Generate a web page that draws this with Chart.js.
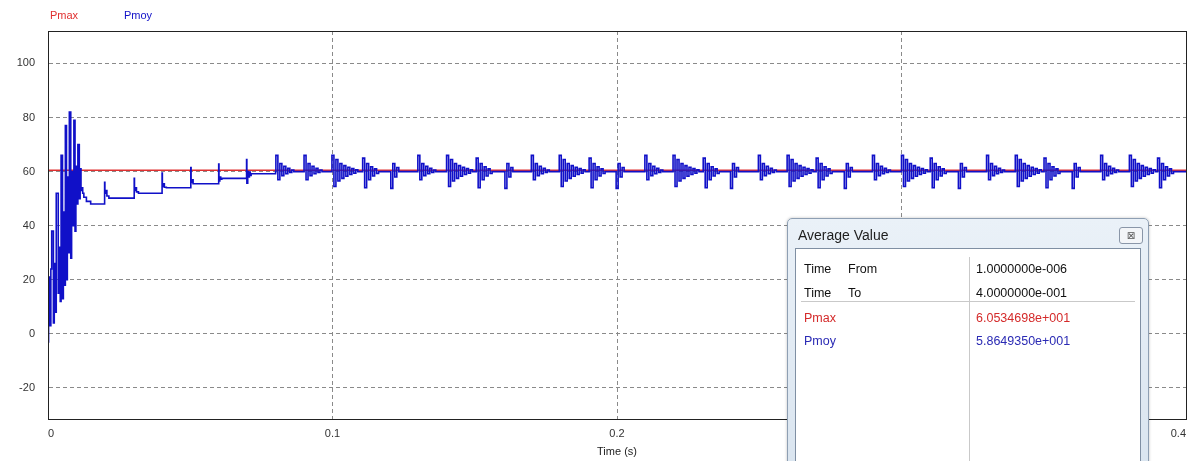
<!DOCTYPE html>
<html>
<head>
<meta charset="utf-8">
<script src="https://cdn.jsdelivr.net/npm/chart.js@4.4.1/dist/chart.umd.min.js"></script>
<style>
  html, body { margin: 0; padding: 0; background: #fff; overflow: hidden; }
  #wrap { position: relative; width: 1194px; height: 461px; font-family: "Liberation Sans", Arial, sans-serif; }
  #legend span { position: absolute; top: 9px; font-size: 11px; white-space: nowrap; }
  #dlg { position: absolute; left: 787px; top: 218px; width: 360px; height: 260px;
         background: linear-gradient(#eaf1f8, #d9e4ef); border: 1px solid #8e9fb3;
         border-radius: 5px 5px 0 0; box-shadow: 0 0 3px rgba(0,0,0,0.25); }
  #dlg .ttl { position: absolute; left: 10px; top: 8px; font-size: 14px; color: #1e1e1e; }
  #dlg .cls { position: absolute; left: 331px; top: 8px; width: 22px; height: 15px; border: 1px solid #8a96a8;
              border-radius: 3px; background: #f3f5f8; font: 10px "DejaVu Sans"; color: #555;
              text-align: center; line-height: 15px; }
  #dlg .pane { position: absolute; left: 7px; top: 29px; width: 344px; height: 240px; background: #fff;
               border: 1px solid #7f8fa3; }
  #dlg .vline { position: absolute; left: 173px; top: 8px; width: 1px; height: 240px; background: #c9c9c9; }
  #dlg .hline { position: absolute; left: 5px; top: 52px; width: 334px; height: 1px; background: #c9c9c9; }
  #dlg .t { position: absolute; font-size: 12.5px; line-height: 14px; white-space: nowrap; color: #111; }
</style>
</head>
<body>
<div id="wrap">
  <canvas id="chart" width="1194" height="461"></canvas>
  <div id="legend"></div>
  <div id="dlg">
    <div class="ttl">Average Value</div>
    <div class="cls">&#x22A0;</div>
    <div class="pane">
      <div class="vline"></div>
      <div class="hline"></div>
      <div class="t" style="left:8px;top:13px">Time</div>
      <div class="t" style="left:52px;top:13px">From</div>
      <div class="t" style="left:180px;top:13px">1.0000000e-006</div>
      <div class="t" style="left:8px;top:37px">Time</div>
      <div class="t" style="left:52px;top:37px">To</div>
      <div class="t" style="left:180px;top:37px">4.0000000e-001</div>
      <div class="t" style="left:8px;top:62px;color:#d42a2a">Pmax</div>
      <div class="t" style="left:180px;top:62px;color:#d42a2a">6.0534698e+001</div>
      <div class="t" style="left:8px;top:85px;color:#2a2ab4">Pmoy</div>
      <div class="t" style="left:180px;top:85px;color:#2a2ab4">5.8649350e+001</div>
    </div>
  </div>
</div>
<script>
// axis ticks
const xTicks = [0, 0.1, 0.2, 0.3, 0.4];
const yTicks = [-20, 0, 20, 40, 60, 80, 100];

// Pmax: flat line
const pmaxT = [0, 0.4];
const pmaxV = [60.5, 60.5];

// Pmoy: start-up transient and the slow steps up to 60
const startT = [0, 0.0002, 0.0006, 0.0010, 0.0013, 0.0019, 0.0022, 0.0026, 0.0029, 0.0036, 0.0039, 0.0043,
  0.0046, 0.0051, 0.0054, 0.0058, 0.0061, 0.0065, 0.0068, 0.0072, 0.0075, 0.0080, 0.0083, 0.0087,
  0.0091, 0.0095, 0.0098, 0.0102, 0.0105, 0.0110, 0.0113, 0.0116, 0.0118, 0.0122, 0.0126, 0.0135,
  0.0150, 0.0170, 0.0199,
  0.0200, 0.0203, 0.0207, 0.0214, 0.0230, 0.0303,
  0.0304, 0.0307, 0.0311, 0.0318, 0.0330, 0.0401,
  0.0402, 0.0405, 0.0409, 0.0416, 0.0502,
  0.0503, 0.0506, 0.0510, 0.0517, 0.0600,
  0.0601, 0.0604, 0.0607, 0.0611, 0.0620, 0.0698,
  0.0699, 0.0702, 0.0705, 0.0708, 0.0711, 0.0714, 0.0720, 0.0800];
const startV = [22, -3, 21, 3, 24, 38, 4, 26, 8, 52, 15, 32,
  12, 66, 13, 45, 18, 77, 20, 58, 30, 82, 28, 60,
  40, 79, 38, 62, 48, 70, 50, 61, 53, 54, 52, 50.5,
  49, 48, 48,
  56, 52, 53, 51, 50.2, 50.2,
  57.5, 53, 54, 52.5, 52, 52,
  59.5, 54.5, 55.5, 54.2, 54,
  61.5, 56, 57, 55.5, 55.5,
  62.8, 56.5, 58, 57.2, 57.5, 57.5,
  64.5, 55.7, 60, 58, 59.8, 58.6, 59.2, 59.2];

// Pmoy: the four burst shapes seen every 10 ms, sampled every 0.7 ms
const burstStep = 0.0007;
const burstA = [60, 66, 57, 63, 58.5, 62, 59.2, 61.2, 59.7, 60.6, 60];
const burstB = [60, 66, 54.5, 64.5, 56.5, 63, 57.5, 62.2, 58.3, 61.6, 58.9, 61.1, 59.4, 60.7, 60];
const burstC = [60, 65, 54, 63, 57, 61.8, 58.4, 61, 59.3, 60];
const burstD = [60, 53.8, 63, 58, 61.5, 60];
const burstTimes = [0.0801, 0.0900, 0.0998, 0.1106, 0.1205, 0.1300, 0.1401, 0.1505, 0.1606, 0.1699,
  0.1797, 0.1902, 0.1997, 0.2098, 0.2197, 0.2303, 0.2399, 0.2497, 0.2598, 0.2700, 0.2799, 0.2898,
  0.3000, 0.3101, 0.3200, 0.3299, 0.3400, 0.3501, 0.3600, 0.3700, 0.3801, 0.3900];
const burstKinds = 'AABCDABCDABCDABCDABCDABCDABCDABC';
const pmoyEnd = [0.4, 60];

const shapes = { A: burstA, B: burstB, C: burstC, D: burstD };
const pmoy = startT.map((t, i) => ({ x: t, y: startV[i] }));
burstTimes.forEach((t0, i) => {
  shapes[burstKinds[i]].forEach((v, j) => pmoy.push({ x: t0 + j * burstStep, y: v }));
});
pmoy.push({ x: pmoyEnd[0], y: pmoyEnd[1] });
const pmax = pmaxT.map((t, i) => ({ x: t, y: pmaxV[i] }));

const frame = {
  id: 'frame',
  afterDraw(chart) {
    const { ctx, chartArea: a } = chart;
    ctx.save();
    ctx.strokeStyle = '#222';
    ctx.lineWidth = 1;
    ctx.strokeRect(Math.round(a.left) + 0.5, Math.round(a.top) + 0.5,
      Math.round(a.right - a.left), Math.round(a.bottom - a.top));
    ctx.restore();
  }
};

const chart = new Chart(document.getElementById('chart'), {
  type: 'line',
  data: {
    datasets: [
      { label: 'Pmoy', data: pmoy, borderColor: '#1010c8', borderWidth: 1.6, pointRadius: 0, stepped: 'after' },
      { label: 'Pmax', data: pmax, borderColor: '#e03030', borderWidth: 1.5, pointRadius: 0, tension: 0 }
    ]
  },
  options: {
    responsive: false,
    animation: false,
    layout: { padding: { top: 31, right: 6, bottom: 0, left: 0 } },
    plugins: { legend: { display: false }, tooltip: { enabled: false } },
    scales: {
      x: {
        type: 'linear', min: 0, max: 0.4,
        afterBuildTicks: s => { s.ticks = xTicks.map(v => ({ value: v })); },
        afterFit: s => { s.height = 42; },
        grid: { color: '#8a8a8a', drawTicks: false },
        border: { dash: [4, 3], color: '#222' },
        ticks: { color: '#333', font: { size: 11, family: 'Liberation Sans' }, padding: 8, align: 'inner',
                 maxRotation: 0, callback: v => String(v) },
        title: { display: true, text: 'Time (s)', color: '#222', font: { size: 11, family: 'Liberation Sans' },
                 padding: { top: 0, bottom: 2 } }
      },
      y: {
        min: -31.5, max: 112,
        afterBuildTicks: s => { s.ticks = yTicks.map(v => ({ value: v })); },
        afterFit: s => { s.width = 48; },
        grid: { color: '#8a8a8a', drawTicks: false },
        border: { dash: [4, 3], color: '#222' },
        ticks: { color: '#333', font: { size: 11, family: 'Liberation Sans' }, padding: 13 }
      }
    }
  },
  plugins: [frame]
});

// legend as plain coloured labels, as in the original plot
const legendLeft = { Pmax: 50, Pmoy: 124 };
const legendEl = document.getElementById('legend');
['Pmax', 'Pmoy'].forEach(name => {
  const ds = chart.data.datasets.find(d => d.label === name);
  const sp = document.createElement('span');
  sp.textContent = ds.label;
  sp.style.color = ds.borderColor;
  sp.style.left = legendLeft[name] + 'px';
  legendEl.appendChild(sp);
});
</script>
</body>
</html>
